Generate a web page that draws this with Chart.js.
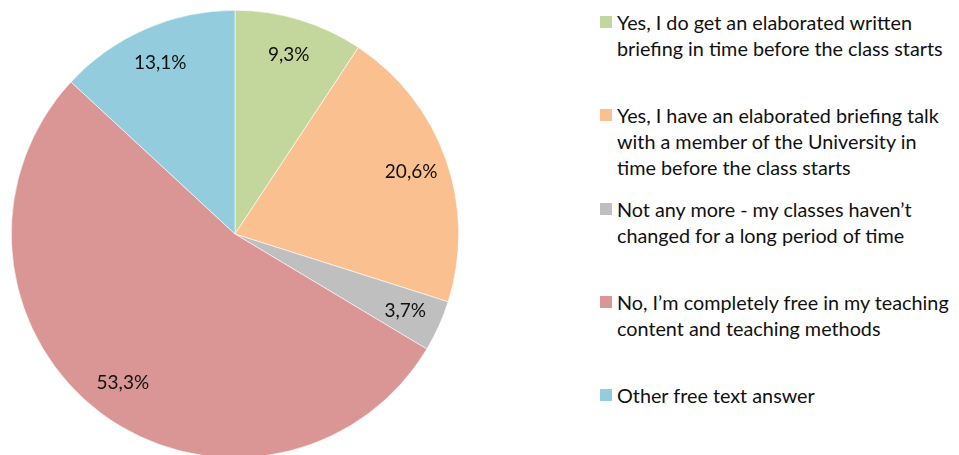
<!DOCTYPE html>
<html>
<head>
<meta charset="utf-8">
<script src="https://cdn.jsdelivr.net/npm/chart.js@4.4.1/dist/chart.umd.min.js"></script>
<style>
  html, body { margin: 0; padding: 0; background: #fff; overflow: hidden; }
  body { width: 959px; height: 455px; position: relative; font-family: Lato, "Open Sans", sans-serif; }
  #wrap { position: absolute; left: 0; top: 0; width: 470px; height: 468px; }
  #legend { position: absolute; left: 600px; top: 9px; width: 359px; }
  .item { height: 93.3px; display: flex; align-items: flex-start; }
  .box { width: 12px; height: 12px; flex: none; margin-top: 7px; margin-right: 5px; }
  .txt { font-size: 19.8px; line-height: 26px; color: #111; white-space: nowrap; }
</style>
</head>
<body>
<div id="wrap"><canvas id="myChart"></canvas></div>
<div id="legend"></div>
<script>
let labels = [
  ["Yes, I do get an elaborated written", "briefing in time before the class starts"],
  ["Yes, I have an elaborated briefing talk", "with a member of the University in", "time before the class starts"],
  ["Not any more - my classes haven\u2019t", "changed for a long period of time"],
  ["No, I\u2019m completely free in my teaching", "content and teaching methods"],
  ["Other free text answer"]
];
let values = [9.3, 20.6, 3.7, 53.3, 13.1];
let colors = ["#C3D69B", "#FAC090", "#BFBFBF", "#D99694", "#93CDDD"];

// legend drawn as html, Excel-style
let legend = document.getElementById("legend");
labels.forEach((lines, i) => {
  let div = document.createElement("div");
  div.className = "item";
  let box = document.createElement("div");
  box.className = "box";
  box.style.background = colors[i];
  let txt = document.createElement("div");
  txt.className = "txt";
  txt.innerHTML = lines.join("<br>");
  div.appendChild(box);
  div.appendChild(txt);
  legend.appendChild(div);
});

// percentage labels inside slices
let sliceLabels = {
  id: "sliceLabels",
  afterDatasetsDraw(chart) {
    let ctx = chart.ctx;
    let meta = chart.getDatasetMeta(0);
    ctx.save();
    ctx.font = "19px Lato, 'Open Sans', sans-serif";
    ctx.fillStyle = "#111";
    ctx.textAlign = "center";
    ctx.textBaseline = "middle";
    meta.data.forEach((arc, i) => {
      let mid = (arc.startAngle + arc.endAngle) / 2;
      let r = arc.outerRadius * 0.835;
      let x = arc.x + Math.cos(mid) * r;
      let y = arc.y + Math.sin(mid) * r;
      ctx.fillText(values[i].toFixed(1).replace(".", ",") + "%", x, y);
    });
    ctx.restore();
  }
};

const ctx = document.getElementById("myChart");
new Chart(ctx, {
  type: "pie",
  data: {
    labels: labels.map(l => l.join(" ")),
    datasets: [{
      data: values,
      backgroundColor: colors,
      borderColor: "#ffffff",
      borderWidth: 0.6
    }]
  },
  options: {
    responsive: true,
    maintainAspectRatio: false,
    animation: false,
    layout: { padding: 10 },
    plugins: {
      legend: { display: false },
      tooltip: { enabled: false }
    }
  },
  plugins: [sliceLabels]
});
</script>
</body>
</html>
